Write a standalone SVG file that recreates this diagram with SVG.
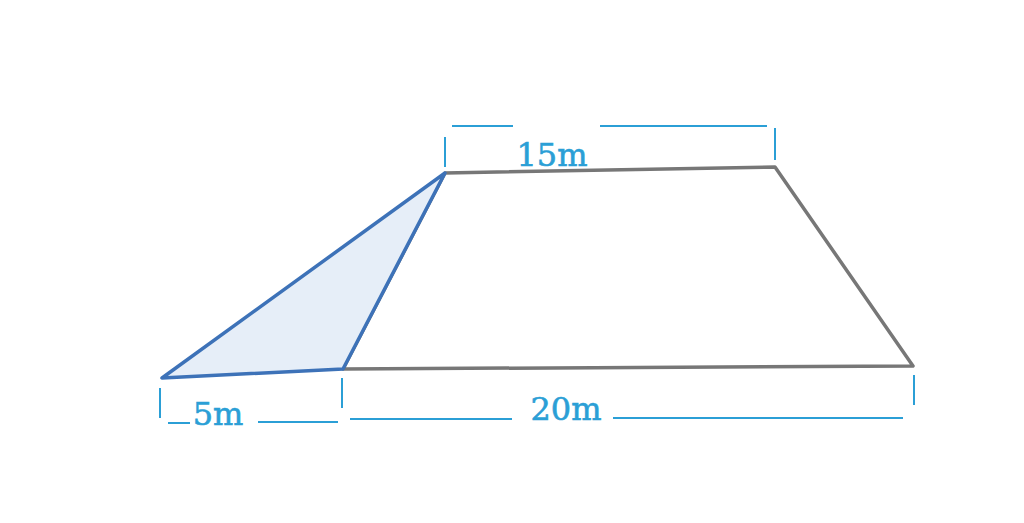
<svg xmlns="http://www.w3.org/2000/svg" width="1024" height="523" viewBox="0 0 1024 523">
<style>
.dim{stroke:#2b9fd6;stroke-width:2;fill:none}
.lbl{font-family:"DejaVu Serif",serif;font-size:32px;fill:#2b9fd6;stroke:#2b9fd6;stroke-width:0.6}
</style>
<rect width="1024" height="523" fill="#fff"/>
<g id="trapezoid">
<polygon points="445,173 775,167 913,366 343,369" fill="none" stroke="#777" stroke-width="3.5" stroke-linejoin="round"/>
</g>
<g id="triangle">
<polygon points="162,378 343,369 445,173" fill="#e6eef8" stroke="#3d72b8" stroke-width="3.5" stroke-linejoin="round"/>
</g>
<g id="connectors">
<line class="dim" x1="445" y1="137" x2="445" y2="167"/>
<line class="dim" x1="775" y1="128" x2="775" y2="160"/>
<line class="dim" x1="452" y1="126" x2="513" y2="126"/>
<line class="dim" x1="600" y1="126" x2="767" y2="126"/>
<line class="dim" x1="160" y1="388" x2="160" y2="418"/>
<line class="dim" x1="342" y1="378" x2="342" y2="408"/>
<line class="dim" x1="168" y1="423" x2="190" y2="423"/>
<line class="dim" x1="258" y1="422" x2="338" y2="422"/>
<line class="dim" x1="350" y1="419" x2="512" y2="419"/>
<line class="dim" x1="613" y1="418" x2="903" y2="418"/>
<line class="dim" x1="914" y1="375" x2="914" y2="405"/>
</g>
<g id="labels">
<text class="lbl" x="552" y="166" text-anchor="middle">15m</text>
<text class="lbl" x="218" y="425" text-anchor="middle">5m</text>
<text class="lbl" x="566" y="420" text-anchor="middle">20m</text>
</g>
</svg>
